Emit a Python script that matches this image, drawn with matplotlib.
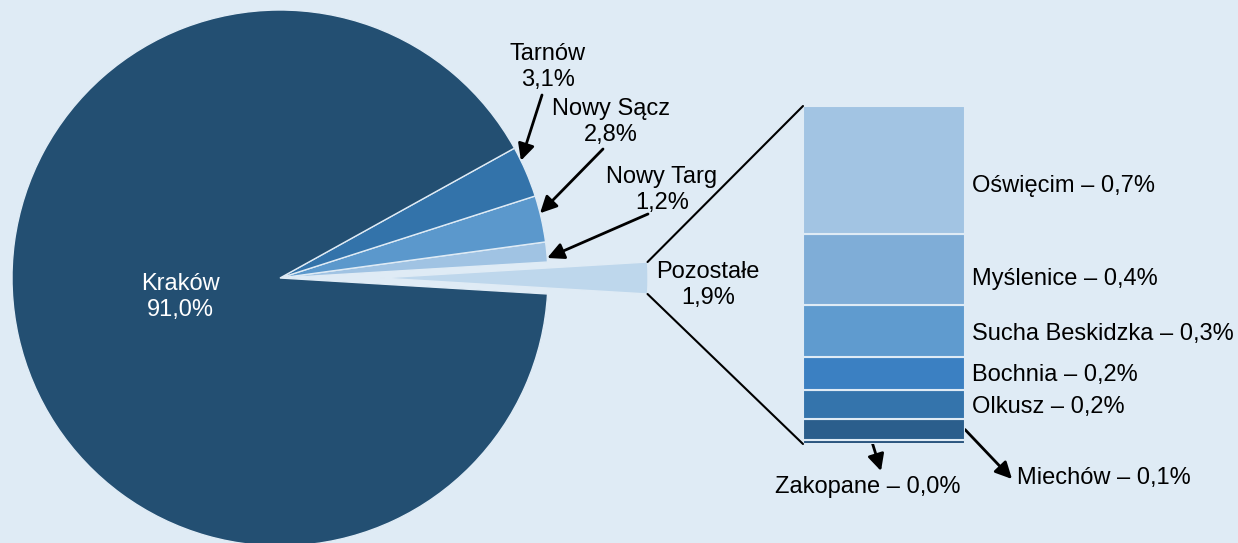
import matplotlib.pyplot as plt
import numpy as np
from matplotlib.patches import ConnectionPatch

plt.rcParams["font.family"] = ["Liberation Sans", "DejaVu Sans"]

# ---------------------------------------------------------------------
# Data
# ---------------------------------------------------------------------

# share of the region, %
cities = ["Kraków", "Tarnów", "Nowy Sącz", "Nowy Targ", "Pozostałe"]
shares = [91.0, 3.1, 2.8, 1.2, 1.9]
pie_colors = ["#234f72", "#3373aa", "#5b98cc", "#a0c3e3", "#bed7ec"]

# breakdown of "Pozostałe", %
others = ["Oświęcim", "Myślenice", "Sucha Beskidzka", "Bochnia",
          "Olkusz", "Miechów", "Zakopane"]
other_shares = [0.71, 0.39, 0.29, 0.18, 0.16, 0.12, 0.02]
bar_colors = ["#a2c4e3", "#7fadd7", "#5f9bcf", "#3b80c2",
              "#3474ac", "#2b5e8c", "#24507a"]

bg = "#dfebf5"
W, H = 1238, 543
FS = 17
LS = 1.2


def fmt(v):
    return f"{v:.1f}%".replace(".", ",")


# ---------------------------------------------------------------------
# Pie
# ---------------------------------------------------------------------

fig = plt.figure(figsize=(W / 100, H / 100), dpi=100, facecolor=bg)
ax = fig.add_axes([0, 0, 1, 1])

# Pozostałe is centred on 0 deg, the rest follow counter-clockwise
order = [4, 3, 2, 1, 0]
R = 268
cx, cy = 280, H - 278
wedges, _ = ax.pie(
    [shares[i] for i in order],
    colors=[pie_colors[i] for i in order],
    radius=R,
    center=(cx, cy),
    startangle=-shares[4] * 3.6 / 2,
    counterclock=True,
    explode=[100, 0, 0, 0, 0],
    wedgeprops=dict(edgecolor=bg, linewidth=1),
)
ax.set_xlim(0, W)
ax.set_ylim(0, H)
ax.set_aspect("equal")
ax.axis("off")

ax.text(180, H - 297, f"{cities[0]}\n{fmt(shares[0])}", color="white",
        ha="center", va="center", fontsize=FS, linespacing=LS)


def arc_point(w, frac):
    a = np.deg2rad(w.theta1 + frac * (w.theta2 - w.theta1))
    return w.center[0] + w.r * np.cos(a), w.center[1] + w.r * np.sin(a)


arrow = dict(arrowstyle="-|>", color="black", lw=2, mutation_scale=25,
             shrinkA=0, shrinkB=0)

# (city index, wedge index, label centre, arrow tail, tip position on arc)
callouts = [
    (1, 3, (548, 67), (542, 95), 0.73),
    (2, 2, (611, 122), (603, 149), 0.62),
    (3, 1, (662, 190), (648, 214), 0.2),
]
for ci, wi, (tx, ty), (ax0, ay0), frac in callouts:
    ax.text(tx, H - ty, f"{cities[ci]}\n{fmt(shares[ci])}", ha="center",
            va="center", fontsize=FS, linespacing=LS)
    ax.annotate("", xy=arc_point(wedges[wi], frac), xytext=(ax0, H - ay0),
                arrowprops=arrow)

ax.text(708, H - 285, f"{cities[4]}\n{fmt(shares[4])}", ha="center",
        va="center", fontsize=FS, linespacing=LS)

# ---------------------------------------------------------------------
# Bar of "Pozostałe"
# ---------------------------------------------------------------------

bx = fig.add_axes([803 / W, (H - 444) / H, 162 / W, 338 / H])
bottom = 0
mids = {}
for name, v, c in reversed(list(zip(others, other_shares, bar_colors))):
    bx.bar(0.5, v, bottom=bottom, width=1, color=c, edgecolor=bg,
           linewidth=1.5)
    mids[name] = bottom + v / 2
    bottom += v
bx.set_xlim(0, 1)
bx.set_ylim(0, sum(other_shares))
bx.axis("off")

# labels sit a little below the middle of their segment
label_drop = [16, 9, 3, 1, 3]
for name, v, d in zip(others[:5], other_shares[:5], label_drop):
    bx.annotate(f"{name} – {fmt(v)}", xy=(1.043, mids[name]),
                xycoords=bx.get_yaxis_transform(), xytext=(0, -d * 0.72),
                textcoords="offset points", ha="left", va="center",
                fontsize=FS)

# Zakopane, below the bar
ax.text(868, H - 487, f"{others[6]} – {fmt(other_shares[6])}", ha="center",
        va="center", fontsize=FS)
ax.annotate("", xy=(881, H - 471), xytext=(0.43, 0),
            textcoords=bx.transData, arrowprops=arrow)

# Miechów, to the right
ax.text(1017, H - 478, f"{others[5]} – {fmt(other_shares[5])}", ha="left",
        va="center", fontsize=FS)
ax.annotate("", xy=(1012, H - 479), xytext=(1.0, mids["Miechów"]),
            textcoords=bx.transData, arrowprops=arrow)

# lines joining the exploded wedge with the bar
pw = wedges[0]
for frac, corner in [(1, (0, 1)), (0, (0, 0))]:
    con = ConnectionPatch(xyA=arc_point(pw, frac), coordsA=ax.transData,
                          xyB=corner, coordsB=bx.transAxes,
                          color="black", lw=1.5)
    fig.add_artist(con)

fig.savefig("out.png", dpi=100, facecolor=bg)
